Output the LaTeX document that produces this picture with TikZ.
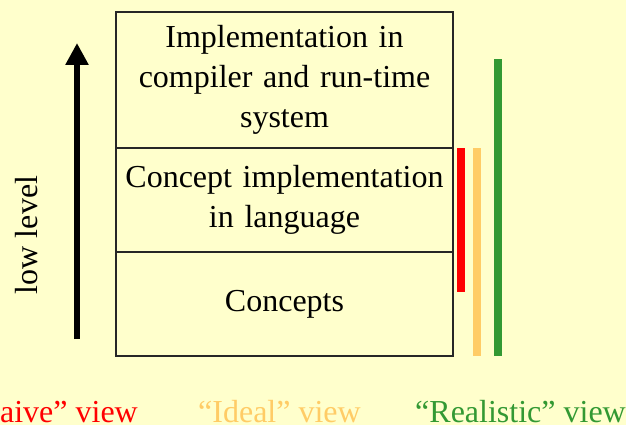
\documentclass[tikz,border=0pt]{standalone}
\usepackage{fontspec}
\setmainfont{Liberation Serif}
\usetikzlibrary{arrows.meta}
\definecolor{paper}{RGB}{255,255,204}
\definecolor{naivered}{RGB}{255,0,0}
\definecolor{idealorange}{RGB}{255,204,102}
\definecolor{realgreen}{RGB}{51,153,51}
\begin{document}
\begin{tikzpicture}[x=1pt,y=-1pt,
  every node/.style={font=\fontsize{32}{40}\selectfont},
  layer/.style={draw=black!85,line width=1.4pt,rectangle,inner sep=0pt,
    minimum width=337pt,align=center,text width=330pt},
  viewlabel/.style={inner sep=0pt}]
  % page and background
  \fill[paper] (0,0) rectangle (626,425);
  \useasboundingbox (0,0) rectangle (626,425);

  % stacked layers
  \node[layer,minimum height=136pt] (impl) at (284.5,80) {Implementation in\\compiler and run-time\\system};
  \node[layer,minimum height=104pt] (lang) at (284.5,200) {Concept implementation\\in language};
  \node[layer,minimum height=104pt] (conc) at (284.5,304) {Concepts};

  % level arrow
  \coordinate (lowend) at (77,339);
  \coordinate (highend) at (77,43);
  \draw[line width=6pt,-{Triangle[length=22pt,width=22pt]}] (lowend) -- (highend);
  \node[rotate=90] (lvl) at (27,235) {low level};

  % coverage bars
  \fill[naivered] (457,148) rectangle (465,292);
  \fill[idealorange] (473,148) rectangle (481,356);
  \fill[realgreen] (494,59) rectangle (502,356);

  % view labels
  \node[viewlabel,anchor=base east,text=naivered] (naive) at (138,422) {``Naive'' view};
  \node[viewlabel,anchor=base west,text=idealorange] (ideal) at (198,422) {``Ideal'' view};
  \node[viewlabel,anchor=base west,text=realgreen] (real) at (415,422) {``Realistic'' view};
\end{tikzpicture}
\end{document}
